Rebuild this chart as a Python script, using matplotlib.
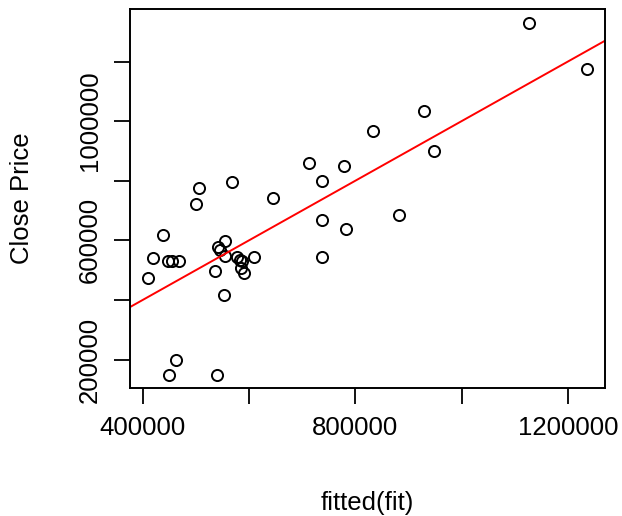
import numpy as np
import matplotlib
matplotlib.use("Agg")
import matplotlib.pyplot as plt

plt.rcParams['font.family'] = ['Liberation Sans', 'DejaVu Sans']

fitted = [410000, 418800, 438800, 446700, 454600, 468400, 462700, 449000,
          500900, 506600, 535600, 540500, 542400, 545600, 554400, 555500,
          552500, 567600, 577000, 583200, 587600, 585100, 590200, 609600,
          644800, 712200, 738200, 738200, 738200, 779600, 782800, 833100,
          882100, 929200, 948600, 1126200, 1236700]
close = [475000, 541500, 618800, 531400, 531400, 531400, 200000, 149600,
         721000, 774800, 496800, 149600, 576500, 567400, 548200, 597600,
         417100, 797000, 542800, 534800, 531400, 506900, 491100, 542800,
         741200, 860800, 799300, 668200, 542800, 850700, 637000, 967400,
         686000, 1034600, 901200, 1329400, 1174800]

xticks = [400000, 600000, 800000, 1000000, 1200000]
xlabels = ["400000", "", "800000", "", "1200000"]
yticks = [200000, 400000, 600000, 800000, 1000000, 1200000]
ylabels = ["200000", "", "600000", "", "1000000", ""]

fig = plt.figure(figsize=(6.22, 5.16), dpi=100)
ax = fig.add_axes([130/622, 1 - 388/516, 475/622, 379/516])

ax.plot(fitted, close, linestyle="none", marker="o", markersize=8,
        markerfacecolor="none", markeredgecolor="black", markeredgewidth=1.4)

# lm(close ~ fitted) line
slope, intercept = 1.0, 0.0
ax.axline((0, intercept), slope=slope, color="red", linewidth=1.4)

ax.set_xlim(376100, 1270000)
ax.set_ylim(104500, 1376500)

ax.set_xticks(xticks)
ax.set_xticklabels(xlabels)
ax.set_yticks(yticks)
ax.set_yticklabels(ylabels, rotation=90, va="center")

ax.tick_params(axis="both", direction="out", length=11.5, width=1.3,
               labelsize=18.5, colors="black")
ax.tick_params(axis="x", pad=9)
ax.tick_params(axis="y", pad=9)

for s in ax.spines.values():
    s.set_linewidth(1.4)

fig.text(367/622, 1 - 503/516, "fitted(fit)", ha="center", va="center",
         fontsize=18.5)
fig.text(22/622, 1 - 198/516, "Close Price", ha="center", va="center",
         rotation=90, fontsize=18.5)

fig.savefig("out.png", dpi=100)
